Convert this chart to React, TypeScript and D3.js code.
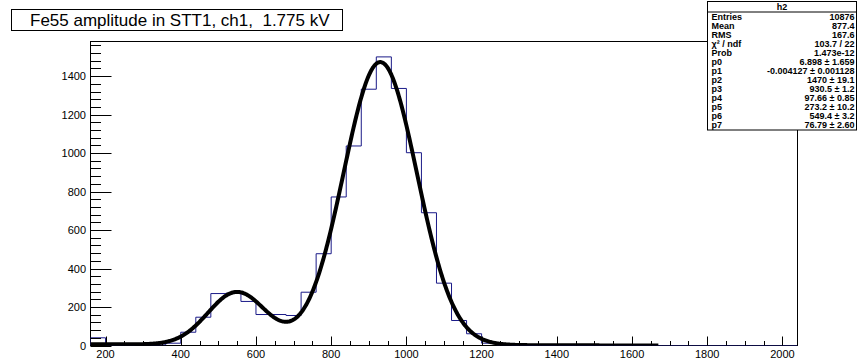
import React from "react";
import * as d3 from "d3";

// ---- data ----
const binStart = 160;
const binWidth = 40;
const binCounts = [
  40, 2, 3, 4, 3, 12, 69, 147, 270, 272, 229, 161, 161, 156, 277, 477, 772, 1037,
  1332, 1500, 1336, 1002, 690, 324, 130, 61, 12, 3, 1, 0, 0, 0, 0, 0, 0, 0, 0, 0,
  0, 0, 0, 0, 0, 0, 0, 0, 0,
];
const fitParams = [6.898, -0.004127, 1470, 930.5, 97.66, 273.2, 549.4, 76.79];
const fitRange = [160, 1670];
const xTicksMajor = [200, 400, 600, 800, 1000, 1200, 1400, 1600, 1800, 2000];
const yTicksMajor = [0, 200, 400, 600, 800, 1000, 1200, 1400];
const titleText = "Fe55 amplitude in STT1, ch1,  1.775 kV";
const statsTitle = "h2";
const statsLabels = ["Entries", "Mean", "RMS", "χ² / ndf", "Prob", "p0", "p1", "p2", "p3", "p4", "p5", "p6", "p7"];
const statsValues = [
  "10876", "877.4", "167.6", "103.7 / 22", "1.473e-12",
  "6.898 ± 1.659", "-0.004127 ± 0.001128", "1470 ± 19.1", "930.5 ± 1.2",
  "97.66 ± 0.85", "273.2 ± 10.2", "549.4 ± 3.2", "76.79 ± 2.60",
];

const W = 858;
const H = 362;
const FL = 90.5, FR = 797.5, FT = 41.5, FB = 345.5;

function fitFn(x: number) {
  const p = fitParams;
  return (
    p[0] + p[1] * x +
    p[2] * Math.exp(-0.5 * ((x - p[3]) / p[4]) ** 2) +
    p[5] * Math.exp(-0.5 * ((x - p[6]) / p[7]) ** 2)
  );
}

export default function App() {
  const xMax = binStart + binWidth * binCounts.length;
  const x = d3.scaleLinear().domain([binStart, xMax]).range([FL, FR]);
  const y = d3.scaleLinear().domain([0, 1580]).range([FB, FT]);

  // histogram step path
  let hp = `M${x(binStart)},${y(0)}`;
  binCounts.forEach((v, i) => {
    const x0 = x(binStart + i * binWidth);
    const x1 = x(binStart + (i + 1) * binWidth);
    hp += `L${x0},${y(v)}L${x1},${y(v)}`;
  });
  hp += `L${x(xMax)},${y(0)}`;

  const fitXs = d3.range(fitRange[0], fitRange[1] + 0.001, 2);
  const fitLine = d3
    .line<number>()
    .x((d) => x(d))
    .y((d) => y(Math.max(0, fitFn(d))))
    .curve(d3.curveLinear)(fitXs) as string;

  const yMinor = d3.range(0, 1580, 40).filter((v) => v % 200 !== 0);
  const xMinor = d3.range(200, 2040, 50).filter((v) => v % 200 !== 0);

  const font = "'Liberation Sans', Arial, Helvetica, sans-serif";

  const sbX = 707.5, sbY = 1.5, sbW = 149, rowH = 9, headH = 10.5;
  const sbH = headH + rowH * statsLabels.length + 1;
  const sFont = 9;

  return (
    <svg width={W} height={H} style={{ position: "absolute", left: 0, top: 0, background: "#fff" }}>
      <rect x={0} y={0} width={W} height={H} fill="#fff" />
      <defs>
        <clipPath id="frameClip">
          <rect x={FL} y={FT} width={FR - FL} height={FB - FT} />
        </clipPath>
      </defs>
      {/* frame */}
      <rect x={FL} y={FT} width={FR - FL} height={FB - FT} fill="none" stroke="#000" strokeWidth={1} />
      {/* histogram */}
      <path d={hp} fill="none" stroke="#1a1a88" strokeWidth={1} clipPath="url(#frameClip)" />
      {/* fit */}
      <path d={fitLine} fill="none" stroke="#000" strokeWidth={4} strokeLinejoin="round" clipPath="url(#frameClip)" />

      {/* y axis */}
      {yTicksMajor.map((v) => (
        <g key={"ym" + v}>
          <line x1={FL} x2={FL + 21} y1={Math.round(y(v)) + 0.5} y2={Math.round(y(v)) + 0.5} stroke="#000" />
          <text x={86} y={y(v) + 4} textAnchor="end" fontFamily={font} fontSize={11} fill="#000">{v}</text>
        </g>
      ))}
      {yMinor.map((v) => (
        <line key={"yn" + v} x1={FL} x2={FL + 10.5} y1={Math.round(y(v)) + 0.5} y2={Math.round(y(v)) + 0.5} stroke="#000" />
      ))}
      {/* x axis */}
      {xTicksMajor.map((v) => (
        <g key={"xm" + v}>
          <line x1={Math.round(x(v)) + 0.5} x2={Math.round(x(v)) + 0.5} y1={FB} y2={FB - 9} stroke="#000" />
          <text x={x(v)} y={358} textAnchor="middle" fontFamily={font} fontSize={11} fill="#000">{v}</text>
        </g>
      ))}
      {xMinor.map((v) => (
        <line key={"xn" + v} x1={Math.round(x(v)) + 0.5} x2={Math.round(x(v)) + 0.5} y1={FB} y2={FB - 4.5} stroke="#000" />
      ))}

      {/* title */}
      <rect x={11.5} y={9.5} width={331} height={21} fill="#fff" stroke="#000" strokeWidth={1} />
      <text x={30} y={26} fontFamily={font} fontSize={17} fill="#000" xmlSpace="preserve" style={{ whiteSpace: "pre" }}>{titleText}</text>

      {/* stats box */}
      <rect x={sbX} y={sbY} width={sbW} height={sbH} fill="#fff" stroke="#000" strokeWidth={1} />
      <line x1={sbX} x2={sbX + sbW} y1={sbY + headH} y2={sbY + headH} stroke="#000" />
      <text x={sbX + sbW / 2} y={sbY + 8.5} textAnchor="middle" fontFamily={font} fontSize={sFont} fontWeight="bold" fill="#000">{statsTitle}</text>
      {statsLabels.map((lab, i) => (
        <g key={"s" + i}>
          <text x={sbX + 4} y={sbY + headH + rowH * (i + 1) - 1.5} fontFamily={font} fontSize={sFont} fontWeight="bold" fill="#000">{lab}</text>
          <text x={sbX + sbW - 2} y={sbY + headH + rowH * (i + 1) - 1.5} textAnchor="end" fontFamily={font} fontSize={sFont} fontWeight="bold" fill="#000">{statsValues[i]}</text>
        </g>
      ))}
    </svg>
  );
}
